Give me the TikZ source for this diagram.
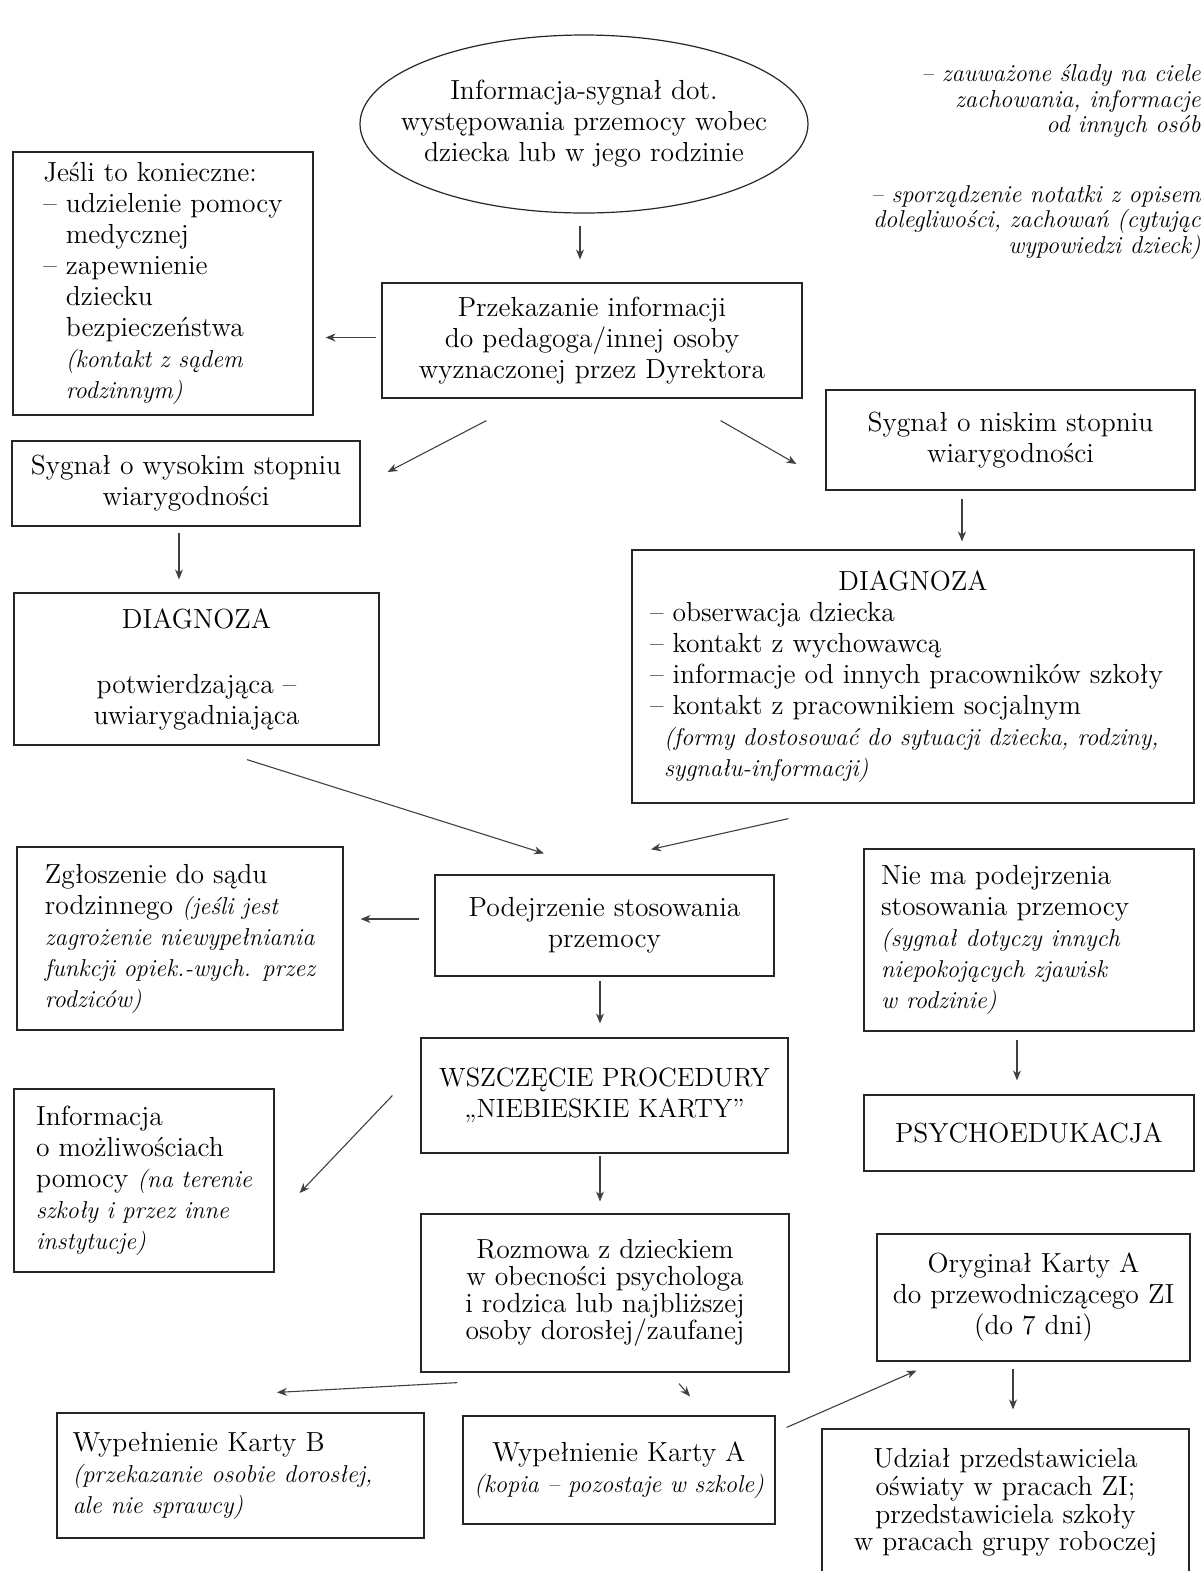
\documentclass[tikz,border=0pt]{standalone}
\usepackage{amsmath,amssymb}
\usepackage{xcolor}
\usepackage{tikz}
\usetikzlibrary{arrows.meta,positioning,calc,shapes.geometric}

\newcommand{\kurs}[1]{{\fontsize{12.2}{15.5}\selectfont\itshape #1}}
\newcommand{\wcin}{\phantom{–\ }}

\begin{document}
\begin{tikzpicture}[x=0.5pt,y=-0.5pt,>={Stealth[length=5pt,width=4pt]},
  font=\fontsize{13.8}{15.5}\selectfont,
  box/.style={draw=black!85, line width=0.6pt, align=center, inner sep=2pt},
  lbox/.style={box, align=left},
  note/.style={align=right, inner sep=0pt, font=\fontsize{12.2}{12.6}\selectfont\itshape},
  conn/.style={->, draw=black!75, line width=0.55pt}]
  \useasboundingbox (0,0) rectangle (1201,1571);

  \node[box, ellipse, inner xsep=-20pt, inner ysep=6pt, minimum width=224pt, minimum height=89pt] (ell) at (584,124)
      {Informacja-sygnał dot.\\ występowania przemocy wobec\\ dziecka lub w jego rodzinie};
  \node[note, anchor=east] (zn1) at (1201,101) {– zauważone ślady na ciele\\ zachowania, informacje\\ od innych osób};
  \node[note, anchor=east] (zn2) at (1201,222.5) {– sporządzenie notatki z opisem\\ dolegliwości, zachowań (cytując\\ wypowiedzi dzieck)};

  \node[lbox, minimum width=150pt, minimum height=131.5pt] (jes) at (163,283.5)
      {Jeśli to konieczne:\\ – udzielenie pomocy\\ \wcin medycznej\\ – zapewnienie\\ \wcin dziecku\\ \wcin bezpieczeństwa\\
       \wcin\kurs{(kontakt z sądem}\\ \wcin\kurs{rodzinnym)}};
  \node[box, minimum width=210pt, minimum height=57.5pt] (prz) at (592,340.5)
      {Przekazanie informacji\\ do pedagoga/innej osoby\\ wyznaczonej przez Dyrektora};
  \node[box, minimum width=174pt, minimum height=42.5pt] (wys) at (186,483.5) {Sygnał o wysokim stopniu\\ wiarygodności};
  \node[box, minimum width=184.5pt, minimum height=50pt] (nis) at (1010.5,440) {Sygnał o niskim stopniu\\ wiarygodności};
  \node[box, minimum width=182.5pt, minimum height=76pt] (dil) at (196.5,669) {DIAGNOZA\\[17pt] potwierdzająca –\\ uwiarygadniająca};
  \node[lbox, minimum width=281pt, minimum height=126.5pt] (dir) at (913,676.5)
      {\makebox[263pt]{DIAGNOZA}\\ – obserwacja dziecka\\ – kontakt z wychowawcą\\ – informacje od innych pracowników szkoły\\
       – kontakt z pracownikiem socjalnym\\ \hspace*{7pt}\kurs{(formy dostosować do sytuacji dziecka, rodziny,}\\ \hspace*{7pt}\kurs{sygnału-informacji)}};

  \node[lbox, minimum width=163pt, minimum height=91.5pt] (zgl) at (180,938.5)
      {Zgłoszenie do sądu\\ rodzinnego \kurs{(jeśli jest}\\ \kurs{zagrożenie niewypełniania}\\ \kurs{funkcji opiek.-wych. przez}\\ \kurs{rodziców)}};
  \node[box, minimum width=169.5pt, minimum height=50.5pt] (pod) at (604.5,925.5) {Podejrzenie stosowania\\ przemocy};
  \node[lbox, text width=148pt, minimum width=165pt, minimum height=91pt] (nie) at (1029,940)
      {Nie ma podejrzenia\\ stosowania przemocy\\ \kurs{(sygnał dotyczy innych}\\ \kurs{niepokojących zjawisk}\\ \kurs{w rodzinie)}};
  \node[box, minimum width=165pt, minimum height=38pt] (psy) at (1029,1133) {PSYCHOEDUKACJA};
  \node[box, minimum width=183.5pt, minimum height=57.5pt, font=\fontsize{13.2}{15.5}\selectfont] (wsz) at (604.5,1095.5)
      {WSZCZĘCIE PROCEDURY\\ „NIEBIESKIE KARTY”};
  \node[lbox, minimum width=130pt, minimum height=91.5pt] (inf) at (144,1180.5)
      {Informacja\\ o możliwościach\\ pomocy \kurs{(na terenie}\\ \kurs{szkoły i przez inne}\\ \kurs{instytucje)}};
  \node[box, minimum width=184pt, minimum height=79pt, font=\fontsize{13.8}{13.6}\selectfont] (roz) at (605,1293)
      {Rozmowa z dzieckiem\\ w obecności psychologa\\ i rodzica lub najbliższej\\ osoby dorosłej/zaufanej};
  \node[box, minimum width=156.5pt, minimum height=63.5pt] (ory) at (1033.5,1297.5) {Oryginał Karty A\\ do przewodniczącego ZI\\ (do 7 dni)};
  \node[lbox, text width=168pt, minimum width=183.5pt, minimum height=62.5pt] (kab) at (240.5,1475.5)
      {Wypełnienie Karty B\\ \kurs{(przekazanie osobie dorosłej,}\\ \kurs{ale nie sprawcy)}};
  \node[box, inner sep=1pt, minimum width=156pt, minimum height=54pt] (kaa) at (619,1470)
      {Wypełnienie Karty A\\ \kurs{(kopia – pozostaje w szkole)}};
  \node[box, minimum width=183.5pt, minimum height=73.5pt, font=\fontsize{13.8}{13.9}\selectfont] (udz) at (1005.5,1502.5)
      {Udział przedstawiciela\\ oświaty w pracach ZI;\\ przedstawiciela szkoły\\ w pracach grupy roboczej};

  \draw[conn] ($(ell.south)+(-4,12)$) -- ($(ell.south |- prz.north)+(-4,-23)$);
  \draw[conn] ($(prz.west)+(-5,-3)$) -- ($(prz.west -| jes.east)+(12,-3)$);
  \draw[conn] ($(prz.south west)+(105,22)$) -- ($(wys.east)+(27,-11.5)$);
  \draw[conn] ($(prz.south east)+(-82,22)$) -- ($(nis.west)+(-29,24)$);
  \draw[conn] ($(wys.south)+(-7,6)$) -- ($(wys.south |- dil.north)+(-7,-13)$);
  \draw[conn] ($(nis.south)+(-48.5,8)$) -- ($(nis.south |- dir.north)+(-48.5,-8)$);
  \draw[conn] ($(dil.south)+(50.5,14)$) -- ($(pod.north)+(-60.5,-21)$);
  \draw[conn] ($(dir.south west)+(157,15)$) -- ($(pod.north)+(46.5,-25)$);
  \draw[conn] ($(pod.west)+(-15,-6.5)$) -- ($(pod.west -| zgl.east)+(17,-6.5)$);
  \draw[conn] ($(pod.south)+(-4.5,4)$) -- ($(pod.south |- wsz.north)+(-4.5,-14)$);
  \draw[conn] ($(nie.south)+(-12,8)$) -- ($(nie.south |- psy.north)+(-12,-14)$);
  \draw[conn] ($(wsz.west)+(-28,0)$) -- ($(inf.east)+(25,12.5)$);
  \draw[conn] ($(wsz.south)+(-4.5,2)$) -- ($(wsz.south |- roz.north)+(-4.5,-12)$);
  \draw[conn] ($(roz.south west)+(37,10)$) -- ($(kab.north)+(36.5,-20)$);
  \draw[conn] ($(roz.south)+(74,11)$) -- ($(kaa.north)+(71,-19)$);
  \draw[conn] ($(kaa.north east)+(11,12)$) -- ($(ory.south west)+(40,9)$);
  \draw[conn] ($(ory.south)+(-20.5,7)$) -- ($(ory.south |- udz.north)+(-20.5,-19)$);
\end{tikzpicture}
\end{document}
